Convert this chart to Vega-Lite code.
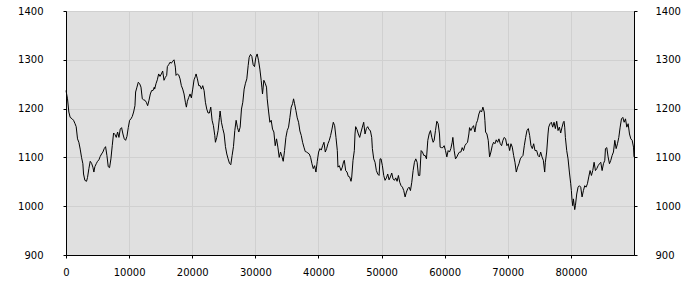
{
  "$schema": "https://vega.github.io/schema/vega-lite/v6.json",
  "width": 568,
  "height": 244,
  "autosize": {"type": "none"},
  "padding": {"left": 66, "top": 11, "right": 66, "bottom": 45},
  "background": "white",
  "config": {
    "view": {"fill": "#e0e0e0", "stroke": "black", "strokeWidth": 1},
    "axis": {
      "domainColor": "black",
      "tickColor": "black",
      "tickSize": 3,
      "labelColor": "black",
      "labelFont": "DejaVu Sans",
      "labelFontSize": 10,
      "gridColor": "#d0d0d0",
      "gridOpacity": 1,
      "title": null
    }
  },
  "data": {"values": [
    {"t":0,"v":1237},{"t":238,"v":1220},{"t":450,"v":1193},{"t":662,"v":1182},{"t":979,"v":1179},{"t":1191,"v":1176},{"t":1402,"v":1170},{"t":1614,"v":1163},{"t":1826,"v":1138},{"t":2037,"v":1131},{"t":2249,"v":1117},{"t":2461,"v":1100},{"t":2672,"v":1087},{"t":2778,"v":1066},{"t":2990,"v":1053},{"t":3254,"v":1051},{"t":3413,"v":1059},{"t":3625,"v":1077},{"t":3837,"v":1092},{"t":4048,"v":1088},{"t":4260,"v":1080},{"t":4418,"v":1070},{"t":4577,"v":1081},{"t":4789,"v":1087},{"t":5000,"v":1092},{"t":5212,"v":1095},{"t":5424,"v":1102},{"t":5635,"v":1107},{"t":5847,"v":1111},{"t":6058,"v":1118},{"t":6270,"v":1122},{"t":6482,"v":1104},{"t":6693,"v":1081},{"t":6905,"v":1079},{"t":7117,"v":1097},{"t":7328,"v":1124},{"t":7540,"v":1150},{"t":7752,"v":1147},{"t":7963,"v":1141},{"t":8175,"v":1152},{"t":8387,"v":1141},{"t":8598,"v":1158},{"t":8810,"v":1161},{"t":9021,"v":1148},{"t":9233,"v":1138},{"t":9445,"v":1135},{"t":9656,"v":1143},{"t":9868,"v":1161},{"t":10080,"v":1176},{"t":10291,"v":1179},{"t":10503,"v":1184},{"t":10715,"v":1193},{"t":10926,"v":1206},{"t":11032,"v":1234},{"t":11244,"v":1244},{"t":11455,"v":1254},{"t":11667,"v":1251},{"t":11879,"v":1244},{"t":12090,"v":1220},{"t":12302,"v":1218},{"t":12514,"v":1217},{"t":12725,"v":1213},{"t":12937,"v":1206},{"t":13149,"v":1217},{"t":13360,"v":1230},{"t":13572,"v":1237},{"t":13784,"v":1237},{"t":13995,"v":1244},
    {"t":14048,"v":1240},{"t":14260,"v":1251},{"t":14471,"v":1259},{"t":14683,"v":1271},{"t":14895,"v":1266},{"t":15106,"v":1271},{"t":15318,"v":1277},{"t":15530,"v":1258},{"t":15741,"v":1264},{"t":15953,"v":1268},{"t":16059,"v":1286},{"t":16270,"v":1290},{"t":16482,"v":1295},{"t":16694,"v":1293},{"t":16905,"v":1297},{"t":17117,"v":1300},{"t":17328,"v":1285},{"t":17434,"v":1268},{"t":17646,"v":1271},{"t":17858,"v":1269},{"t":18069,"v":1261},{"t":18281,"v":1247},{"t":18492,"v":1240},{"t":18704,"v":1230},{"t":18916,"v":1213},{"t":19075,"v":1203},{"t":19233,"v":1215},{"t":19445,"v":1223},{"t":19656,"v":1230},{"t":19868,"v":1222},{"t":20080,"v":1240},{"t":20291,"v":1259},{"t":20503,"v":1266},{"t":20609,"v":1271},{"t":20820,"v":1261},{"t":21032,"v":1247},{"t":21244,"v":1247},{"t":21455,"v":1240},{"t":21667,"v":1247},{"t":21879,"v":1237},{"t":22090,"v":1213},{"t":22302,"v":1199},{"t":22514,"v":1191},{"t":22725,"v":1191},{"t":22937,"v":1203},{"t":23149,"v":1176},{"t":23360,"v":1165},{"t":23572,"v":1145},{"t":23678,"v":1131},{"t":23889,"v":1141},{"t":24101,"v":1155},{"t":24313,"v":1182},{"t":24418,"v":1195},{"t":24630,"v":1172},{"t":24842,"v":1159},{"t":25053,"v":1148},{"t":25265,"v":1122},{"t":25477,"v":1107},{"t":25688,"v":1097},{"t":25900,"v":1088},{"t":26111,"v":1085},{"t":26323,"v":1104},{"t":26535,"v":1122},{"t":26746,"v":1155},{"t":26958,"v":1176},{"t":27170,"v":1161},{"t":27381,"v":1152},{"t":27593,"v":1162},{"t":27804,"v":1199},{"t":28016,"v":1213},{"t":28228,"v":1240},{"t":28439,"v":1252},{"t":28651,"v":1261},
    {"t":28863,"v":1288},{"t":29022,"v":1305},{"t":29233,"v":1311},{"t":29445,"v":1307},{"t":29657,"v":1290},{"t":29868,"v":1286},{"t":30080,"v":1305},{"t":30291,"v":1312},{"t":30503,"v":1299},{"t":30715,"v":1281},{"t":30926,"v":1258},{"t":31032,"v":1244},{"t":31138,"v":1230},{"t":31350,"v":1258},{"t":31561,"v":1252},{"t":31773,"v":1244},{"t":31879,"v":1220},{"t":32090,"v":1195},{"t":32302,"v":1172},{"t":32514,"v":1176},{"t":32725,"v":1158},{"t":32937,"v":1152},{"t":33149,"v":1124},{"t":33360,"v":1138},{"t":33572,"v":1121},{"t":33784,"v":1100},{"t":33995,"v":1111},{"t":34207,"v":1102},{"t":34419,"v":1092},{"t":34630,"v":1114},{"t":34842,"v":1141},{"t":35054,"v":1155},{"t":35265,"v":1162},{"t":35477,"v":1182},{"t":35688,"v":1203},{"t":35900,"v":1210},{"t":36059,"v":1220},{"t":36217,"v":1210},{"t":36429,"v":1196},{"t":36641,"v":1181},{"t":36852,"v":1172},{"t":37064,"v":1154},{"t":37276,"v":1145},{"t":37487,"v":1131},{"t":37699,"v":1121},{"t":37910,"v":1112},{"t":38122,"v":1111},{"t":38334,"v":1109},{"t":38545,"v":1107},{"t":38757,"v":1100},{"t":38969,"v":1087},{"t":39180,"v":1077},{"t":39392,"v":1083},{"t":39604,"v":1070},{"t":39815,"v":1092},{"t":40027,"v":1111},{"t":40239,"v":1118},{"t":40450,"v":1115},{"t":40662,"v":1124},{"t":40873,"v":1131},{"t":41085,"v":1111},{"t":41297,"v":1118},{"t":41508,"v":1128},{"t":41720,"v":1135},{"t":41932,"v":1145},{"t":42143,"v":1158},{"t":42355,"v":1172},{"t":42567,"v":1165},{"t":42778,"v":1141},{"t":42990,"v":1114},{"t":43096,"v":1080},{"t":43307,"v":1083},
    {"t":43571,"v":1073},{"t":43783,"v":1080},{"t":43994,"v":1092},{"t":44100,"v":1094},{"t":44312,"v":1073},{"t":44523,"v":1070},{"t":44735,"v":1061},{"t":44947,"v":1060},{"t":45158,"v":1051},{"t":45264,"v":1058},{"t":45476,"v":1094},{"t":45687,"v":1114},{"t":45793,"v":1148},{"t":45899,"v":1163},{"t":46111,"v":1157},{"t":46322,"v":1148},{"t":46534,"v":1141},{"t":46746,"v":1152},{"t":46957,"v":1162},{"t":47169,"v":1172},{"t":47381,"v":1148},{"t":47592,"v":1159},{"t":47804,"v":1163},{"t":48015,"v":1157},{"t":48227,"v":1155},{"t":48439,"v":1141},{"t":48544,"v":1118},{"t":48756,"v":1097},{"t":48968,"v":1090},{"t":49179,"v":1073},{"t":49391,"v":1066},{"t":49603,"v":1063},{"t":49762,"v":1097},{"t":49920,"v":1097},{"t":50132,"v":1083},{"t":50344,"v":1063},{"t":50555,"v":1053},{"t":50767,"v":1058},{"t":50978,"v":1066},{"t":51190,"v":1054},{"t":51402,"v":1060},{"t":51613,"v":1068},{"t":51825,"v":1056},{"t":52037,"v":1053},{"t":52248,"v":1058},{"t":52460,"v":1051},{"t":52672,"v":1063},{"t":52883,"v":1049},{"t":53095,"v":1042},{"t":53307,"v":1039},{"t":53518,"v":1032},{"t":53730,"v":1019},{"t":53942,"v":1029},{"t":54153,"v":1036},{"t":54365,"v":1039},{"t":54577,"v":1032},{"t":54788,"v":1049},{"t":55000,"v":1073},{"t":55212,"v":1090},{"t":55423,"v":1097},{"t":55635,"v":1090},{"t":55846,"v":1063},{"t":56058,"v":1063},{"t":56270,"v":1114},{"t":56481,"v":1111},{"t":56693,"v":1104},{"t":56905,"v":1104},{"t":57116,"v":1097},{"t":57328,"v":1135},{"t":57540,"v":1148},{"t":57751,"v":1155},{"t":57963,"v":1141},{"t":58175,"v":1131},
    {"t":58333,"v":1135},{"t":58545,"v":1155},{"t":58756,"v":1174},{"t":58968,"v":1169},{"t":59180,"v":1148},{"t":59285,"v":1121},{"t":59497,"v":1120},{"t":59709,"v":1120},{"t":59920,"v":1124},{"t":60132,"v":1114},{"t":60344,"v":1101},{"t":60555,"v":1114},{"t":60767,"v":1111},{"t":60979,"v":1118},{"t":61190,"v":1131},{"t":61296,"v":1141},{"t":61508,"v":1114},{"t":61719,"v":1097},{"t":61931,"v":1101},{"t":62143,"v":1107},{"t":62354,"v":1111},{"t":62566,"v":1111},{"t":62777,"v":1120},{"t":62989,"v":1114},{"t":63201,"v":1124},{"t":63412,"v":1128},{"t":63624,"v":1131},{"t":63836,"v":1148},{"t":63941,"v":1161},{"t":64153,"v":1155},{"t":64365,"v":1161},{"t":64576,"v":1165},{"t":64788,"v":1152},{"t":65000,"v":1169},{"t":65211,"v":1176},{"t":65423,"v":1189},{"t":65635,"v":1196},{"t":65846,"v":1193},{"t":66058,"v":1203},{"t":66270,"v":1193},{"t":66375,"v":1176},{"t":66481,"v":1152},{"t":66693,"v":1148},{"t":66905,"v":1135},{"t":67116,"v":1101},{"t":67328,"v":1111},{"t":67540,"v":1124},{"t":67751,"v":1131},{"t":67963,"v":1128},{"t":68174,"v":1136},{"t":68386,"v":1131},{"t":68598,"v":1138},{"t":68809,"v":1128},{"t":69021,"v":1124},{"t":69233,"v":1135},{"t":69444,"v":1141},{"t":69656,"v":1138},{"t":69868,"v":1124},{"t":70079,"v":1128},{"t":70291,"v":1114},{"t":70503,"v":1128},{"t":70714,"v":1121},{"t":70926,"v":1104},{"t":71138,"v":1090},{"t":71349,"v":1070},{"t":71561,"v":1080},{"t":71772,"v":1087},{"t":71984,"v":1097},{"t":72196,"v":1101},{"t":72407,"v":1104},{"t":72619,"v":1124},{"t":72831,"v":1141},{"t":73042,"v":1155},{"t":73254,"v":1159},{"t":73466,"v":1145},{"t":73677,"v":1124},{"t":73889,"v":1118},{"t":74101,"v":1128},{"t":74312,"v":1114},
    {"t":74577,"v":1114},{"t":74788,"v":1104},{"t":75000,"v":1101},{"t":75212,"v":1111},{"t":75423,"v":1101},{"t":75635,"v":1094},{"t":75846,"v":1070},{"t":75952,"v":1090},{"t":76164,"v":1111},{"t":76375,"v":1148},{"t":76481,"v":1162},{"t":76693,"v":1169},{"t":76905,"v":1172},{"t":77116,"v":1162},{"t":77328,"v":1172},{"t":77540,"v":1159},{"t":77751,"v":1174},{"t":77963,"v":1155},{"t":78175,"v":1162},{"t":78386,"v":1150},{"t":78598,"v":1162},{"t":78809,"v":1172},{"t":78915,"v":1174},{"t":79021,"v":1162},{"t":79127,"v":1141},{"t":79339,"v":1114},{"t":79550,"v":1097},{"t":79762,"v":1070},{"t":79974,"v":1046},{"t":80079,"v":1032},{"t":80185,"v":1012},{"t":80291,"v":1001},{"t":80397,"v":1015},{"t":80609,"v":993},{"t":80714,"v":1001},{"t":80926,"v":1025},{"t":81138,"v":1039},{"t":81349,"v":1042},{"t":81561,"v":1039},{"t":81772,"v":1019},{"t":81984,"v":1032},{"t":82196,"v":1042},{"t":82407,"v":1039},{"t":82619,"v":1046},{"t":82831,"v":1060},{"t":83042,"v":1073},{"t":83254,"v":1063},{"t":83466,"v":1073},{"t":83677,"v":1090},{"t":83889,"v":1073},{"t":84101,"v":1077},{"t":84312,"v":1083},{"t":84524,"v":1087},{"t":84736,"v":1090},{"t":84947,"v":1073},{"t":85159,"v":1087},{"t":85371,"v":1094},{"t":85476,"v":1118},{"t":85688,"v":1120},{"t":85900,"v":1101},{"t":86111,"v":1087},{"t":86323,"v":1094},{"t":86535,"v":1104},{"t":86746,"v":1111},{"t":86958,"v":1135},{"t":87170,"v":1118},{"t":87381,"v":1128},{"t":87593,"v":1141},{"t":87804,"v":1162},{"t":88016,"v":1179},{"t":88228,"v":1182},{"t":88439,"v":1172},{"t":88651,"v":1179},{"t":88863,"v":1162},{"t":89074,"v":1169},{"t":89286,"v":1148},{"t":89498,"v":1138},{"t":89709,"v":1135},{"t":89921,"v":1121},{"t":90000,"v":1101}
  ]},
  "layer": [
    {
      "mark": {"type": "line", "color": "black", "strokeWidth": 1},
      "encoding": {
        "x": {"field": "t", "type": "quantitative", "scale": {"domain": [0, 90000], "nice": false, "zero": false},
              "axis": {"values": [0,10000,20000,30000,40000,50000,60000,70000,80000], "format": "d", "grid": true, "labelPadding": 9, "labelFlush": false}},
        "y": {"field": "v", "type": "quantitative", "scale": {"domain": [900, 1400], "nice": false, "zero": false},
              "axis": {"orient": "left", "values": [900,1000,1100,1200,1300,1400], "format": "d", "grid": true, "labelPadding": 20, "labelFlush": false}}
      }
    },
    {
      "mark": {"type": "line", "color": "black", "strokeWidth": 1, "opacity": 0},
      "encoding": {
        "x": {"field": "t", "type": "quantitative", "scale": {"domain": [0, 90000], "nice": false, "zero": false}},
        "y": {"field": "v", "type": "quantitative", "scale": {"domain": [900, 1400], "nice": false, "zero": false},
              "axis": {"orient": "right", "values": [900,1000,1100,1200,1300,1400], "format": "d", "grid": false, "labelPadding": 18, "labelFlush": false}}
      }
    }
  ],
  "resolve": {"scale": {"y": "independent"}, "axis": {"y": "independent"}}
}
